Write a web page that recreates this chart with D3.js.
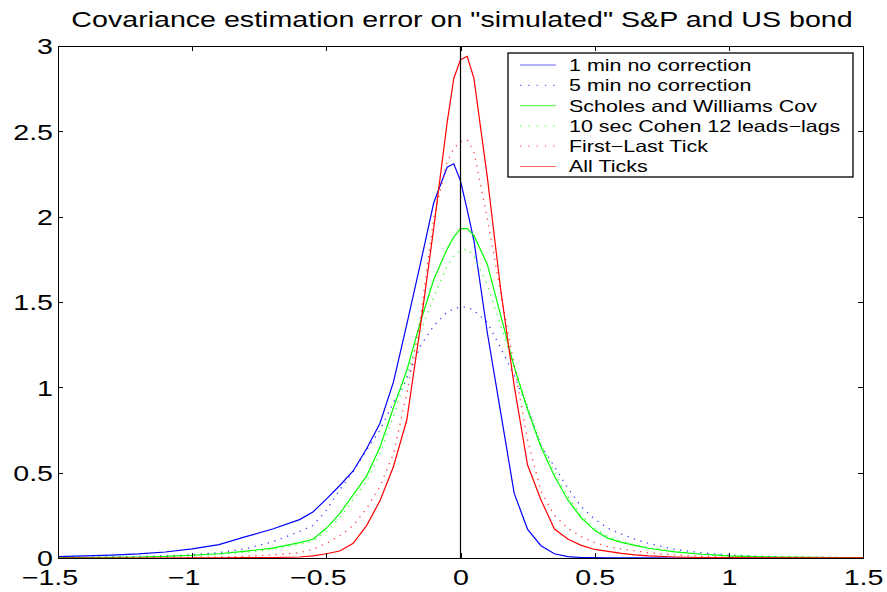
<!DOCTYPE html>
<html>
<head>
<meta charset="utf-8">
<script src="https://cdn.jsdelivr.net/npm/d3@7"></script>
<style>
  body { margin:0; background:#fff; }
  text { font-family: "Liberation Sans", Arial, Helvetica, sans-serif; fill:#000; }
  .axis path, .axis line { stroke:#000; stroke-width:1px; shape-rendering:crispEdges; }
</style>
</head>
<body>
<script>
// estimation error grid (x axis)
var errGrid = [-1.5,-1.4,-1.3,-1.2,-1.1,-1.0,-0.9,-0.8,-0.7,-0.6,-0.55,-0.5,-0.45,-0.4,-0.35,-0.3,-0.25,-0.2,-0.15,-0.1,-0.05,-0.025,
               0,0.025,0.05,0.1,0.15,0.2,0.25,0.3,0.35,0.4,0.45,0.5,0.55,0.6,0.65,0.7,0.8,0.9,1.0,1.1,1.2,1.3,1.4,1.5];

// densities, one value per grid point
var oneMinNoCorr = [0.008,0.012,0.017,0.024,0.035,0.053,0.078,0.125,0.17,0.225,0.27,0.345,0.425,0.51,0.64,0.79,1.03,1.37,1.72,2.08,2.29,2.31,
                    2.21,2.04,1.86,1.32,0.85,0.38,0.168,0.072,0.025,0.008,0.003,0.002,0.001,0.001,0.001,0.001,0,0,0,0,0,0,0,0];
var fiveMinNoCorr = [0.003,0.004,0.006,0.009,0.013,0.02,0.032,0.055,0.095,0.155,0.19,0.28,0.40,0.506,0.633,0.75,0.91,1.05,1.24,1.36,1.44,1.46,
                     1.47,1.47,1.45,1.38,1.23,1.07,0.88,0.66,0.535,0.41,0.30,0.227,0.174,0.14,0.11,0.086,0.05,0.03,0.018,0.011,0.007,0.005,0.003,0.002];
var scholesWilliams = [0.002,0.003,0.004,0.006,0.009,0.016,0.025,0.04,0.058,0.09,0.11,0.174,0.26,0.37,0.48,0.65,0.88,1.1,1.38,1.63,1.81,1.88,
                       1.93,1.93,1.89,1.72,1.42,1.12,0.87,0.65,0.48,0.34,0.236,0.162,0.115,0.092,0.074,0.057,0.036,0.022,0.013,0.008,0.005,0.004,0.003,0.002];
var cohenLeadsLags = [0.001,0.002,0.003,0.005,0.008,0.013,0.021,0.033,0.05,0.08,0.1,0.155,0.235,0.34,0.45,0.61,0.83,1.07,1.32,1.53,1.71,1.77,
                      1.80,1.81,1.77,1.60,1.36,1.12,0.89,0.67,0.50,0.36,0.25,0.175,0.125,0.097,0.077,0.06,0.037,0.022,0.013,0.008,0.005,0.004,0.003,0.002];
var firstLastTick = [0.0005,0.001,0.001,0.002,0.003,0.004,0.006,0.01,0.018,0.031,0.05,0.086,0.13,0.19,0.29,0.42,0.61,0.965,1.40,1.99,2.32,2.40,
                     2.44,2.45,2.38,1.99,1.55,1.13,0.69,0.39,0.25,0.174,0.125,0.09,0.066,0.053,0.042,0.031,0.018,0.01,0.006,0.004,0.002,0.001,0.001,0.001];
var allTicks = [0,0,0,0,0,0.001,0.001,0.002,0.003,0.006,0.012,0.025,0.041,0.086,0.19,0.336,0.535,0.81,1.35,1.93,2.55,2.81,
                2.92,2.94,2.81,2.23,1.57,1.01,0.545,0.34,0.17,0.111,0.074,0.05,0.039,0.027,0.018,0.012,0.006,0.003,0.002,0.001,0.001,0.001,0.001,0.001];

var seriesNames = ["1 min no correction", "5 min no correction", "Scholes and Williams Cov",
                   "10 sec Cohen 12 leads\u2212lags", "First\u2212Last Tick", "All Ticks"];
var xTicks = [-1.5, -1, -0.5, 0, 0.5, 1, 1.5];
var yTicks = [0, 0.5, 1, 1.5, 2, 2.5, 3];
var chartTitle = "Covariance estimation error on \"simulated\" S&P and US bond";

var series = [
  { name: seriesNames[0], values: oneMinNoCorr,    color: "#0000ff", dotted: false },
  { name: seriesNames[1], values: fiveMinNoCorr,   color: "#0000ff", dotted: true },
  { name: seriesNames[2], values: scholesWilliams, color: "#00ff00", dotted: false },
  { name: seriesNames[3], values: cohenLeadsLags,  color: "#00ff00", dotted: true },
  { name: seriesNames[4], values: firstLastTick,   color: "#ff0000", dotted: true },
  { name: seriesNames[5], values: allTicks,        color: "#ff0000", dotted: false }
];

var width = 887, height = 592;
var margin = { top: 46, right: 24, bottom: 34, left: 58 };
var STRETCH = 1.3;   // glyphs in the original are wider than the font
var fmt = d3.format("~g");

var svg = d3.select("body").append("svg")
    .attr("width", width)
    .attr("height", height);

var x = d3.scaleLinear().domain([-1.5, 1.5]).range([margin.left, width - margin.right]);
var y = d3.scaleLinear().domain([0, 3]).range([height - margin.bottom, margin.top]);

function stretch(sel) {
  sel.each(function() {
    var w = this.getComputedTextLength();
    d3.select(this).attr("textLength", w * STRETCH).attr("lengthAdjust", "spacingAndGlyphs");
  });
}

// curves
svg.append("clipPath").attr("id", "plotclip")
  .append("rect")
    .attr("x", x(-1.5)).attr("y", y(3))
    .attr("width", x(1.5) - x(-1.5)).attr("height", y(0) - y(3));

var line = d3.line()
    .x(function(d, i) { return x(errGrid[i]); })
    .y(function(d) { return y(d); });

svg.append("g").attr("clip-path", "url(#plotclip)")
  .selectAll("path")
  .data(series)
  .enter().append("path")
    .attr("d", function(d) { return line(d.values); })
    .attr("fill", "none")
    .attr("stroke", function(d) { return d.color; })
    .attr("stroke-width", function(d) { return d.dotted ? 1.3 : 1.2; })
    .attr("stroke-opacity", function(d) { return d.dotted ? 0.75 : 1; })
    .attr("stroke-dasharray", function(d) { return d.dotted ? "1.3,5.5" : null; });

// vertical line at zero
svg.append("line")
    .attr("x1", x(0)).attr("x2", x(0))
    .attr("y1", y(0)).attr("y2", y(3))
    .attr("stroke", "#000").attr("stroke-width", 1.2);

// axes on all four sides, ticks pointing inward
var gx = svg.append("g").attr("class", "axis")
    .attr("transform", "translate(0," + y(0) + ")")
    .call(d3.axisBottom(x).tickValues(xTicks).tickSizeInner(-5).tickSizeOuter(0).tickFormat(fmt));
svg.append("g").attr("class", "axis")
    .attr("transform", "translate(0," + y(3) + ")")
    .call(d3.axisTop(x).tickValues(xTicks).tickSizeInner(-5).tickSizeOuter(0).tickFormat(""));
var gy = svg.append("g").attr("class", "axis")
    .attr("transform", "translate(" + x(-1.5) + ",0)")
    .call(d3.axisLeft(y).tickValues(yTicks).tickSizeInner(-5).tickSizeOuter(0).tickFormat(fmt));
svg.append("g").attr("class", "axis")
    .attr("transform", "translate(" + x(1.5) + ",0)")
    .call(d3.axisRight(y).tickValues(yTicks).tickSizeInner(-5).tickSizeOuter(0).tickFormat(""));

gx.selectAll("text")
    .attr("y", 27).attr("dy", null)
    .style("font-size", "22px")
    .call(stretch)
    .attr("dx", function(d) { return d < 0 ? -8.5 : 0; });
gy.selectAll("text")
    .attr("x", -5).attr("dy", "0.36em")
    .style("font-size", "22px")
    .call(stretch);
svg.selectAll(".axis").attr("font-family", null).attr("font-size", null);

// title
svg.append("text")
    .attr("x", 462).attr("y", 27)
    .attr("text-anchor", "middle")
    .style("font-size", "22px")
    .text(chartTitle)
    .call(stretch);

// legend
var legend = svg.append("g").attr("transform", "translate(508,53)");
legend.append("rect")
    .attr("width", 345).attr("height", 124)
    .attr("fill", "#fff").attr("stroke", "#000").attr("stroke-width", 1.3);

var item = legend.selectAll("g.item")
    .data(series)
  .enter().append("g")
    .attr("class", "item")
    .attr("transform", function(d, i) { return "translate(0," + (12 + i * 20.3) + ")"; });

item.append("line")
    .attr("x1", 12).attr("x2", 48)
    .attr("stroke", function(d) { return d.color; })
    .attr("stroke-width", 1.2)
    .attr("stroke-opacity", 0.6)
    .attr("stroke-dasharray", function(d) { return d.dotted ? "1.3,7" : null; });

item.append("text")
    .attr("x", 61).attr("dy", "0.36em")
    .style("font-size", "16.5px")
    .text(function(d) { return d.name; })
    .call(stretch);
</script>
</body>
</html>
